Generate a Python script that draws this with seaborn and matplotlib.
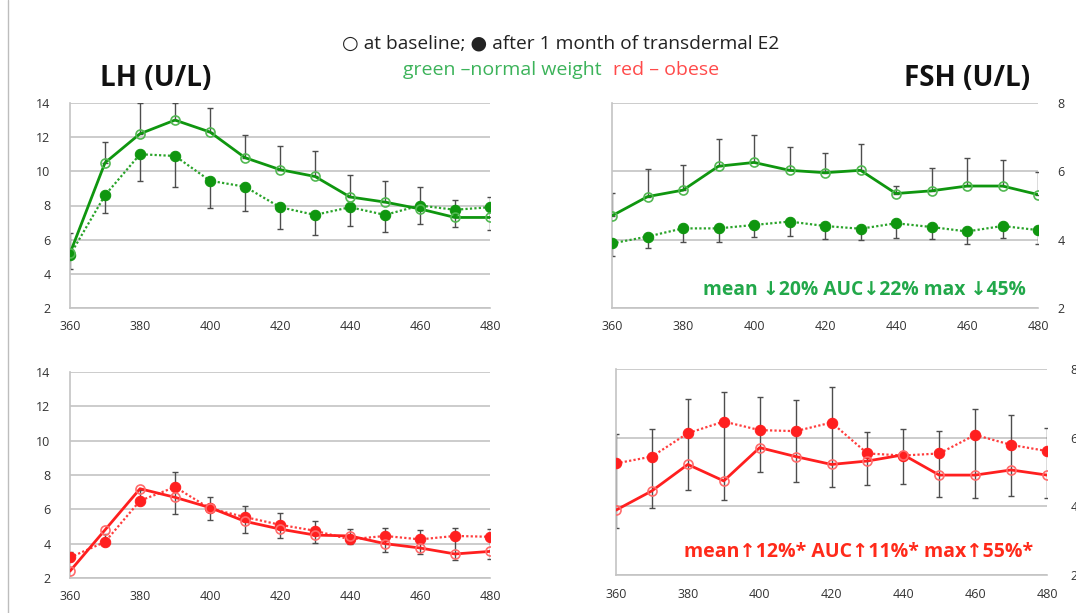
import matplotlib
matplotlib.use('Agg')
import matplotlib.pyplot as plt
import seaborn as sns
from matplotlib.lines import Line2D

# --------------------------------------------------------------------------
# data
# --------------------------------------------------------------------------
minutes = [360, 370, 380, 390, 400, 410, 420, 430, 440, 450, 460, 470, 480]

# LH, normal weight
lh_nw_base = [5.2, 10.5, 12.2, 13.0, 12.3, 10.8, 10.1, 9.7, 8.5, 8.2, 7.8, 7.3, 7.3]
lh_nw_e2 = [5.1, 8.6, 11.0, 10.9, 9.45, 9.1, 7.9, 7.45, 7.9, 7.45, 8.0, 7.75, 7.9]
lh_nw_base_top = [6.4, 11.7, 14.0, 14.0, 13.7, 12.1, 11.5, 11.2, 9.8, 9.45, 9.1, 8.35, 8.5]
lh_nw_e2_bottom = [4.3, 7.55, 9.45, 9.1, 7.85, 7.7, 6.6, 6.25, 6.8, 6.45, 6.9, 6.75, 6.55]

# FSH, normal weight
fsh_nw_base = [4.70, 5.26, 5.45, 6.15, 6.26, 6.03, 5.96, 6.03, 5.35, 5.43, 5.57, 5.57, 5.32]
fsh_nw_e2 = [3.89, 4.09, 4.33, 4.33, 4.43, 4.53, 4.40, 4.32, 4.48, 4.37, 4.24, 4.40, 4.28]
fsh_nw_base_top = [5.37, 6.08, 6.18, 6.96, 7.06, 6.72, 6.54, 6.79, 5.58, 6.11, 6.39, 6.33, 5.99]
fsh_nw_e2_bottom = [3.53, 3.75, 3.92, 3.92, 4.07, 4.11, 4.01, 3.99, 4.04, 4.01, 3.88, 4.04, 3.87]

# LH, obese
lh_ob_base = [2.4, 4.8, 7.2, 6.7, 6.1, 5.3, 4.85, 4.5, 4.45, 4.0, 3.75, 3.4, 3.55]
lh_ob_e2 = [3.2, 4.1, 6.5, 7.3, 6.05, 5.55, 5.1, 4.75, 4.25, 4.45, 4.25, 4.45, 4.4]
lh_ob_bar_lo = [3.0, 4.1, 6.35, 5.75, 5.37, 4.65, 4.31, 4.06, 3.96, 3.53, 3.37, 3.02, 3.12]
lh_ob_bar_hi = [3.5, 4.55, 7.15, 8.15, 6.7, 6.22, 5.76, 5.3, 4.85, 4.94, 4.78, 4.94, 4.84]

# FSH, obese
fsh_ob_base = [3.89, 4.45, 5.22, 4.74, 5.71, 5.45, 5.22, 5.32, 5.5, 4.91, 4.91, 5.06, 4.91]
fsh_ob_e2 = [5.25, 5.45, 6.13, 6.47, 6.22, 6.19, 6.44, 5.54, 5.48, 5.54, 6.08, 5.79, 5.61]
fsh_ob_bar_lo = [3.36, 3.96, 4.48, 4.17, 4.99, 4.7, 4.56, 4.62, 4.64, 4.28, 4.25, 4.31, 4.25]
fsh_ob_bar_hi = [6.11, 6.25, 7.12, 7.32, 7.17, 7.1, 7.47, 6.17, 6.25, 6.2, 6.83, 6.66, 6.27]

x_ticks = [360, 380, 400, 420, 440, 460, 480]
lh_ticks = [2, 4, 6, 8, 10, 12, 14]
fsh_ticks = [2, 4, 6, 8]

# --------------------------------------------------------------------------
# style
# --------------------------------------------------------------------------
sns.set_style('white')
plt.rcParams['font.family'] = ['Open Sans', 'DejaVu Sans']

W, H = 1076, 613
fig = plt.figure(figsize=(W / 100, H / 100), dpi=100)


def px_axes(x0, y0, x1, y1):
    # box given in image pixels (left, top, right, bottom)
    return fig.add_axes([x0 / W, 1 - y1 / H, (x1 - x0) / W, (y1 - y0) / H])


GREEN = '#0f960f'
GREEN_OPEN = '#52b852'
GREEN_DOT = '#29a329'
RED = '#ff1f1f'
RED_OPEN = '#ff6b6b'
RED_DOT = '#ff3d3d'
BAR = '#4d4d4d'


def draw_panel(ax, base, e2, bars, col, col_open, col_dot, ylim, yticks,
               right=False, ypad=14):
    for lo, hi in bars:
        up = [h - l for l, h in zip(lo, hi)]
        ax.errorbar(minutes, lo, yerr=[[0] * len(lo), up], fmt='none',
                    ecolor=BAR, elinewidth=1.0, capsize=2.2, capthick=1.0, zorder=2)
    sns.lineplot(x=minutes, y=e2, ax=ax, color=col_dot, linewidth=1.6,
                 linestyle=(0, (1, 1)), marker='o', markersize=7.5,
                 markerfacecolor=col, markeredgecolor=col, zorder=3)
    sns.lineplot(x=minutes, y=base, ax=ax, color=col, linewidth=2.0,
                 marker='o', markersize=6.5, markerfacecolor='none',
                 markeredgecolor=col_open, markeredgewidth=1.2, zorder=4)
    ax.set_xlim(360, 480)
    ax.set_ylim(*ylim)
    ax.set_xticks(x_ticks)
    ax.set_yticks(yticks)
    ax.grid(axis='y', color='#c4c4c4', linewidth=1.2)
    ax.grid(axis='x', visible=False)
    for s in ['top', 'right']:
        ax.spines[s].set_visible(False)
    for s in ['left', 'bottom']:
        ax.spines[s].set_color('#c4c4c4')
        ax.spines[s].set_linewidth(1.2)
    ax.tick_params(axis='x', direction='out', length=4, color='#c4c4c4',
                   labelsize=9, labelcolor='#333333', pad=5)
    ax.tick_params(axis='y', length=0, labelsize=9, labelcolor='#333333', pad=ypad)
    if right:
        ax.yaxis.tick_right()
        ax.tick_params(axis='y', length=0, pad=ypad)
    ax.set_xlabel('')
    ax.set_ylabel('')


ax_lh_nw = px_axes(70, 103, 490, 308)
ax_fsh_nw = px_axes(612, 103, 1038, 308)
ax_lh_ob = px_axes(70, 372, 490, 578)
ax_fsh_ob = px_axes(616, 369, 1047, 575)

draw_panel(ax_lh_nw, lh_nw_base, lh_nw_e2,
           [(lh_nw_base, lh_nw_base_top), (lh_nw_e2_bottom, lh_nw_e2)],
           GREEN, GREEN_OPEN, GREEN_DOT, (2, 14), lh_ticks)
draw_panel(ax_fsh_nw, fsh_nw_base, fsh_nw_e2,
           [(fsh_nw_base, fsh_nw_base_top), (fsh_nw_e2_bottom, fsh_nw_e2)],
           GREEN, GREEN_OPEN, GREEN_DOT, (2, 8), fsh_ticks, right=True)
draw_panel(ax_lh_ob, lh_ob_base, lh_ob_e2, [(lh_ob_bar_lo, lh_ob_bar_hi)],
           RED, RED_OPEN, RED_DOT, (2, 14), lh_ticks)
draw_panel(ax_fsh_ob, fsh_ob_base, fsh_ob_e2, [(fsh_ob_bar_lo, fsh_ob_bar_hi)],
           RED, RED_OPEN, RED_DOT, (2, 8), fsh_ticks, right=True, ypad=17)

# --------------------------------------------------------------------------
# text
# --------------------------------------------------------------------------
fig.text(100 / W, 1 - 78 / H, 'LH (U/L)', fontsize=20, fontweight='bold',
         color='#111111', ha='left', va='center')
fig.text(1030 / W, 1 - 78 / H, 'FSH (U/L)', fontsize=20, fontweight='bold',
         color='#111111', ha='right', va='center')
fig.text(561 / W, 1 - 43 / H, '\u25cb at baseline; \u25cf after 1 month of transdermal E2',
         fontsize=13.8, color='#222222', ha='center', va='center')
fig.text(602 / W, 1 - 70 / H, 'green \u2013normal weight', fontsize=14,
         color='#3cb35a', ha='right', va='center')
fig.text(613 / W, 1 - 70 / H, 'red \u2013 obese', fontsize=14,
         color='#ff4a4a', ha='left', va='center')

ax_fsh_nw.text(0.972, 0.088, 'mean \u219320% AUC\u219322% max \u219345%',
               transform=ax_fsh_nw.transAxes, fontsize=13.9, fontweight='bold',
               color='#22a84a', ha='right', va='center')
ax_fsh_ob.text(0.968, 0.11, 'mean\u219112%* AUC\u219111%* max\u219155%*',
               transform=ax_fsh_ob.transAxes, fontsize=14, fontweight='bold',
               color='#ff2a1a', ha='right', va='center')

# slide border on the left
fig.add_artist(Line2D([8 / W, 8 / W], [0, 1], color='#bdbdbd', linewidth=1.0))

fig.savefig('out.png', dpi=100)
